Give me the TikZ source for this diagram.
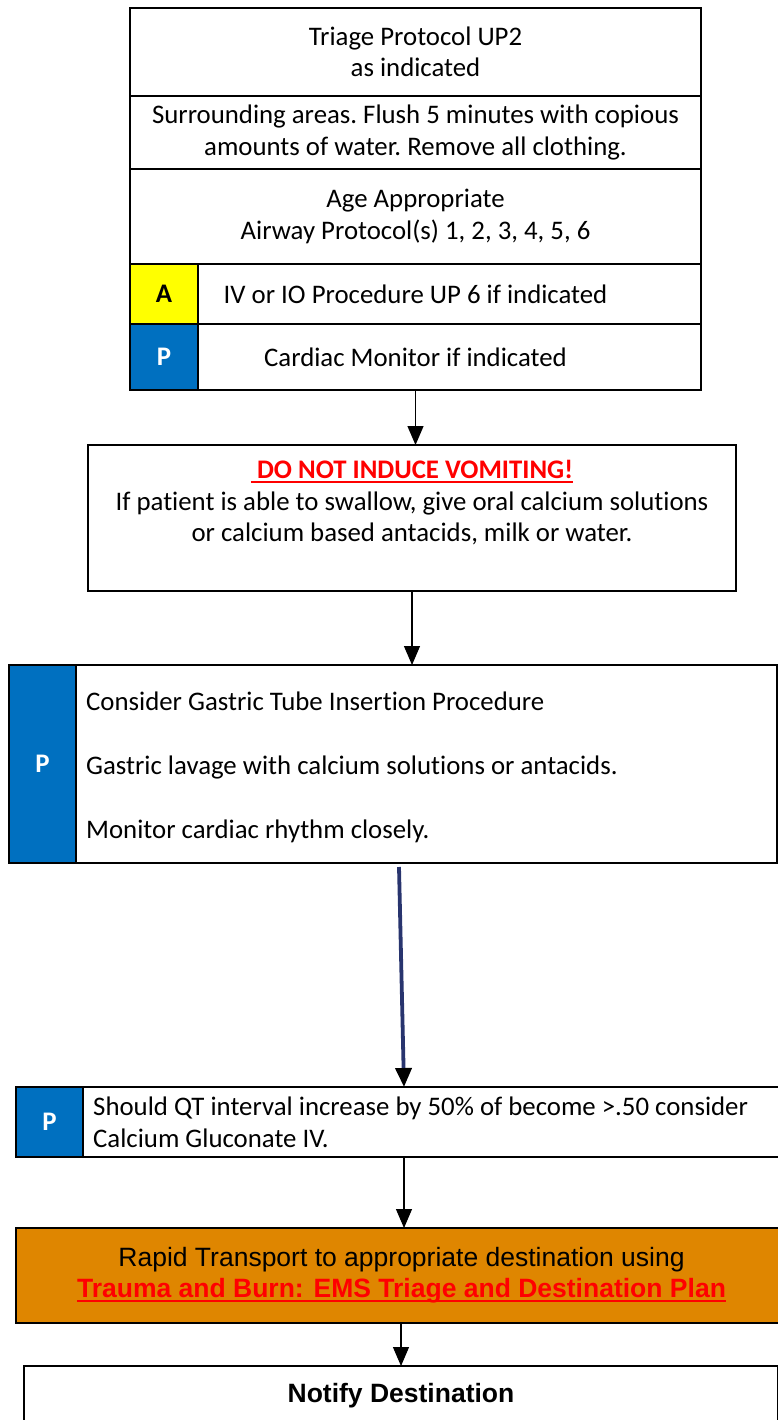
\documentclass[tikz,border=0pt]{standalone}
\usepackage{fontspec}
\setmainfont{Carlito}[Ligatures=NoCommon]
\newfontfamily\arialf{Liberation Sans}
\usetikzlibrary{arrows.meta,calc}
\definecolor{pblue}{HTML}{0070C0}
\definecolor{ayel}{HTML}{FFFF00}
\definecolor{orng}{HTML}{DF8600}
\definecolor{navyln}{RGB}{40,52,110}
\newcommand\calfont{\fontsize{26.8}{31.5}\selectfont\frenchspacing}
\newcommand\arialtxt{\arialf\fontsize{26.5}{31}\selectfont}
\newcommand\myul[1]{\setbox0\hbox{#1}\rlap{\rule[-4pt]{\wd0}{1.8pt}}\box0}
\begin{document}
\begin{tikzpicture}[x=1pt,y=-1pt,
  cell/.style={draw=black, line width=1.2pt, inner sep=0pt, outer sep=0pt, anchor=north west, align=center, font=\calfont},
  tag/.style={cell, font=\calfont\bfseries},
  ptag/.style={tag, fill=pblue, text=white},
  txtl/.style={inner sep=0pt, anchor=west, align=left, font=\calfont},
  txtc/.style={inner sep=0pt, align=center, font=\calfont},
  arr/.style={line width=1.2pt, -{Triangle[width=16pt,length=19pt]}}]
\useasboundingbox (0,0) rectangle (778,1420);
% top block
\node[cell, minimum width=571pt, minimum height=88pt] (r1) at (130,8) {Triage Protocol UP2\\as indicated};
\node[cell, minimum width=571pt, minimum height=73pt] (r2) at (130,96) {Surrounding areas. Flush 5 minutes with copious\\amounts of water. Remove all clothing.};
\node[cell, minimum width=571pt, minimum height=95pt] (r3) at (130,169) {Age Appropriate\\Airway Protocol(s) 1, 2, 3, 4, 5, 6};
\node[cell, minimum width=571pt, minimum height=60pt] (r4) at (130,264) {IV or IO Procedure UP 6 if indicated};
\node[cell, minimum width=571pt, minimum height=66pt] (r5) at (130,324) {Cardiac Monitor if indicated};
\node[tag, fill=ayel, minimum width=68pt, minimum height=60pt] (ca) at (130,264) {A};
\node[ptag, minimum width=68pt, minimum height=66pt] (cp1) at (130,324) {P};
% box 2
\node[cell, minimum width=648pt, minimum height=146pt] (b2) at (88,445) {};
\node[txtc] (t2) at (412,503) {\textcolor{red}{\bfseries\myul{\ DO NOT INDUCE VOMITING!}}\\If patient is able to swallow, give oral calcium solutions\\or calcium based antacids, milk or water.};
% box 3
\node[cell, minimum width=768pt, minimum height=198pt] (b3) at (9,665) {};
\node[ptag, minimum width=67pt, minimum height=198pt] (cp2) at (9,665) {P};
\node[txtl] (t3a) at (86,701) {Consider Gastric Tube Insertion Procedure};
\node[txtl] (t3b) at (86,767) {Gastric lavage with calcium solutions or antacids.};
\node[txtl] (t3c) at (86,831) {Monitor cardiac rhythm closely.};
% box 4
\node[cell, minimum width=775pt, minimum height=70pt] (b4) at (16,1087) {};
\node[ptag, minimum width=67pt, minimum height=70pt] (cp3) at (16,1087) {P};
\node[txtl] (t4) at (93,1122.5) {Should QT interval increase by 50\% of become >.50 consider\\Calcium Gluconate IV.};
% box 5
\node[cell, fill=orng, minimum width=771pt, minimum height=95pt, font=\arialtxt] (b5) at (16,1228) {Rapid Transport to appropriate destination using\\\textcolor{red}{\bfseries\myul{Trauma and Burn: EMS Triage and Destination Plan}}};
% box 6
\node[cell, minimum width=754pt, minimum height=80pt] (b6) at (24,1366) {};
\node[inner sep=0pt, font=\arialtxt\bfseries] (t6) at (401,1396) {Notify Destination};
% connectors
\draw[arr] (r5.south) -- (r5.south |- b2.north);
\draw[arr] (b2.south) -- (b2.south |- b3.north);
\coordinate (n1) at (399,867);
\coordinate (n2) at (404,1087);
\draw[navyln, line width=3.8pt, -{Triangle[width=16pt,length=19pt,color=black]}] (n1) -- (n2 |- b4.north);
\draw[arr] ($(b4.south west)+(388,0)$) -- ($(b5.north west)+(388,0)$);
\draw[arr] ($(b5.south west)+(385,0)$) -- ($(b6.north west)+(377,0)$);
\end{tikzpicture}
\end{document}
